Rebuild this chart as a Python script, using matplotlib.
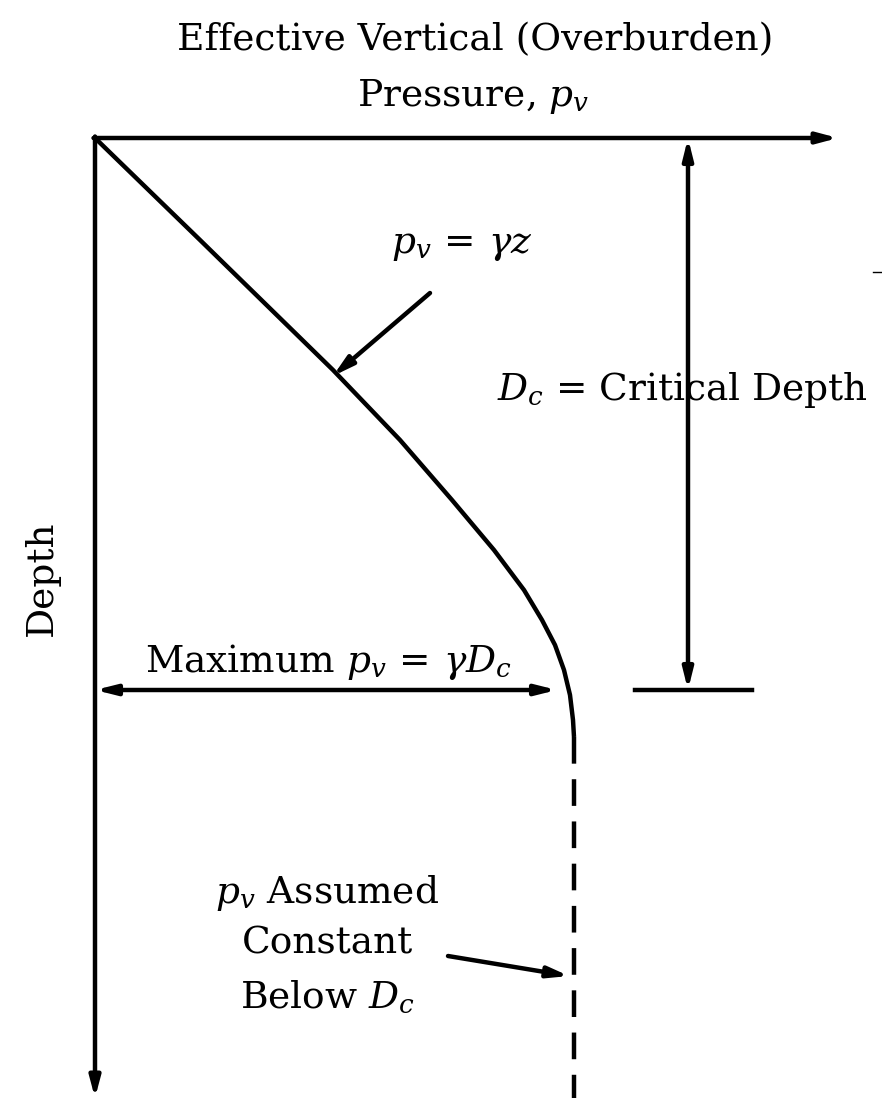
import matplotlib
matplotlib.use("Agg")
import matplotlib.pyplot as plt

plt.rcParams['font.family'] = ['DejaVu Serif']
plt.rcParams['mathtext.fontset'] = 'dejavuserif'

# diagram geometry in picture pixels (x right, y down)
origin = (95, 138)
axis_x_end = 838
axis_y_end = 1098

# p_v curve: linear then bending to vertical at the critical depth
curve_x = [95, 200, 333, 400, 452, 494, 524, 542, 555, 564, 570, 573, 574]
curve_y = [138, 240, 370, 440, 500, 550, 590, 620, 645, 670, 695, 720, 737]

# constant p_v below D_c (dashed)
const_x = [574, 574]
const_y = [737, 1098]

dc_x = 688
dc_y = 690
dc_tick = [635, 752]
max_arrow = [95, 557]

fig = plt.figure(figsize=(8.82, 11.04), dpi=100)
ax = fig.add_axes([0, 0, 1, 1])
ax.set_xlim(0, 882)
ax.set_ylim(1104, 0)
ax.axis('off')

lw = 3.2
head = '-|>,head_length=1.2,head_width=0.32'
# axes of the diagram
ax.annotate('', xy=(axis_x_end, origin[1]), xytext=(origin[0] - 1.5, origin[1]),
            arrowprops=dict(arrowstyle=head, lw=lw, color='black', shrinkA=0, shrinkB=0))
ax.annotate('', xy=(origin[0], axis_y_end), xytext=(origin[0], origin[1] - 1.5),
            arrowprops=dict(arrowstyle=head, lw=lw, color='black', shrinkA=0, shrinkB=0))

ax.plot(curve_x, curve_y, color='black', lw=lw, solid_capstyle='butt', solid_joinstyle='round')
ax.plot(const_x, const_y, color='black', lw=lw, linestyle=(0, (6, 3.5)))

# critical depth dimension
ax.annotate('', xy=(dc_x, dc_y), xytext=(dc_x, origin[1]),
            arrowprops=dict(arrowstyle='<|-|>,head_length=1.2,head_width=0.3', lw=lw, color='black',
                            shrinkA=0, shrinkB=0))
ax.plot(dc_tick, [dc_y, dc_y], color='black', lw=lw)

# maximum p_v dimension
ax.annotate('', xy=(max_arrow[1], dc_y), xytext=(max_arrow[0], dc_y),
            arrowprops=dict(arrowstyle='<|-|>,head_length=1.2,head_width=0.3', lw=lw, color='black',
                            shrinkA=0, shrinkB=0))

# leader arrows
ax.annotate('', xy=(333, 376), xytext=(430, 293),
            arrowprops=dict(arrowstyle=head, lw=lw, color='black', shrinkA=0, shrinkB=0))
ax.annotate('', xy=(569, 976), xytext=(448, 956),
            arrowprops=dict(arrowstyle=head, lw=lw, color='black', shrinkA=0, shrinkB=0))
ax.plot([873, 881], [272, 272], color='black', lw=1)

fs = 27
ax.text(475, 40, 'Effective Vertical (Overburden)', fontsize=fs, ha='center', va='center')
ax.text(473, 96, r'Pressure, $p_v$', fontsize=fs, ha='center', va='center')
ax.text(462, 245, r'$p_v\,=\,\gamma z$', fontsize=fs, ha='center', va='center')
ax.text(497, 390, r'$D_c$ = Critical Depth', fontsize=fs, ha='left', va='center')
ax.text(42, 578, 'Depth', fontsize=fs, ha='center', va='center', rotation=90)
ax.text(145, 662, r'Maximum $p_v\,=\,\gamma D_c$', fontsize=fs, ha='left', va='center')
ax.text(327, 893, r'$p_v$ Assumed', fontsize=fs, ha='center', va='center')
ax.text(327, 943, 'Constant', fontsize=fs, ha='center', va='center')
ax.text(327, 998, r'Below $D_c$', fontsize=fs, ha='center', va='center')

fig.savefig('out.png', dpi=100, facecolor='white')
